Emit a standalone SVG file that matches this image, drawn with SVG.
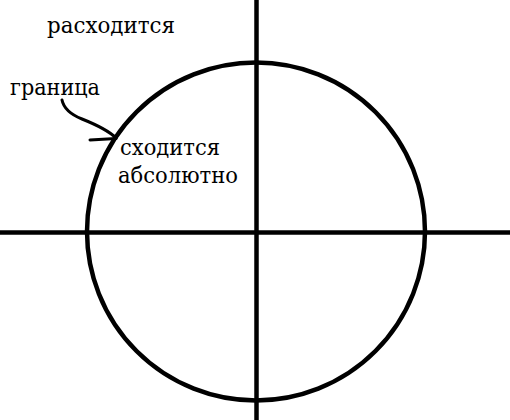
<svg xmlns="http://www.w3.org/2000/svg" width="510" height="420" viewBox="0 0 510 420">
<style>
.ax{stroke:#000;stroke-width:4.5;fill:none}
.c{stroke:#000;stroke-width:4.5;fill:none}
.ar{stroke:#000;stroke-width:3;fill:none;stroke-linecap:round}
text{font-family:'DejaVu Serif','Liberation Serif',serif;font-size:23px;fill:#000}
</style>
<rect width="510" height="420" fill="#fff"/>
<g id="axes">
<line class="ax" x1="0" y1="232.5" x2="510" y2="232.5"/>
<line class="ax" x1="256.5" y1="0" x2="256.5" y2="420"/>
</g>
<g id="circle">
<circle class="c" cx="256" cy="231.5" r="169"/>
</g>
<g id="labels">
<text x="47" y="33" textLength="128" lengthAdjust="spacingAndGlyphs">расходится</text>
<text x="10" y="95" textLength="90" lengthAdjust="spacingAndGlyphs">граница</text>
<text x="120" y="155" textLength="100" lengthAdjust="spacingAndGlyphs">сходится</text>
<text x="118" y="183" textLength="120" lengthAdjust="spacingAndGlyphs">абсолютно</text>
</g>
<g id="connectors">
<path class="ar" d="M62 100 C64 110 72 115 82 119 S108 130 116 138"/>
<path class="ar" d="M90 140 L116 138.5"/>
</g>
</svg>
